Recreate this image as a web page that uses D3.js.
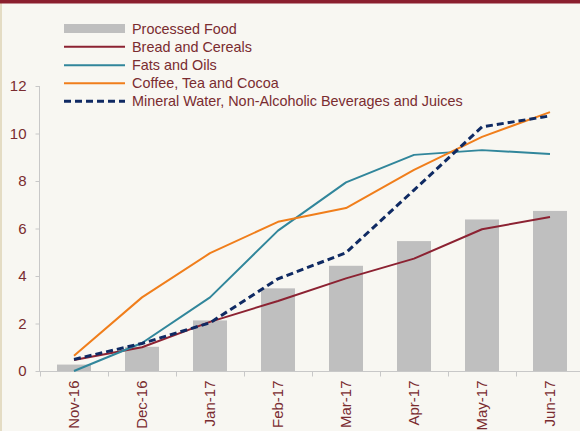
<!DOCTYPE html>
<html>
<head>
<meta charset="utf-8">
<script src="https://cdn.jsdelivr.net/npm/d3@7"></script>
<style>
html,body{margin:0;padding:0;background:#F8F7F2;}
svg{display:block;}
text{font-family:"Liberation Sans",Arial,sans-serif;}
</style>
</head>
<body>
<svg id="chart" width="580" height="431"></svg>
<script>
const categories = ["Nov-16","Dec-16","Jan-17","Feb-17","Mar-17","Apr-17","May-17","Jun-17"];
const processedFood = [0.27,1.02,2.13,3.48,4.43,5.47,6.38,6.74];
const breadCereals = [0.46,1.0,2.07,2.95,3.9,4.73,5.97,6.48];
const fatsOils = [0.0,1.18,3.1,5.91,7.94,9.1,9.3,9.14];
const coffeeTea = [0.64,3.1,4.96,6.28,6.86,8.47,9.86,10.9];
const mineralWater = [0.49,1.16,2.03,3.88,4.98,7.62,10.28,10.74];
const yTicks = [0,2,4,6,8,10,12];

const lineSeries = [
  {name:"Bread and Cereals", values:breadCereals, color:"#8C2232", width:2, dash:null},
  {name:"Fats and Oils", values:fatsOils, color:"#31869B", width:2, dash:null},
  {name:"Coffee, Tea and Cocoa", values:coffeeTea, color:"#F07E1B", width:2, dash:null},
  {name:"Mineral Water, Non-Alcoholic Beverages and Juices", values:mineralWater, color:"#0F2A63", width:3, dash:"7,4"}
];

const svg = d3.select("#chart");
const textColor = "#7A2C30";

// frame decorations
svg.append("rect").attr("x",0).attr("y",0).attr("width",580).attr("height",431).attr("fill","#F8F7F2");
svg.append("rect").attr("x",0).attr("y",0).attr("width",2).attr("height",431).attr("fill","#E4DCC4");
svg.append("rect").attr("x",0).attr("y",0).attr("width",580).attr("height",3.5).attr("fill","#8B1F2E");

const x = d3.scaleBand().domain(categories).range([40, 584]).paddingInner(0).paddingOuter(0);
const y = d3.scaleLinear().domain([0,12]).range([371, 86]);

// bars
svg.append("g").selectAll("rect").data(categories).join("rect")
  .attr("x", d => x(d) + x.bandwidth()*0.25)
  .attr("width", x.bandwidth()*0.5)
  .attr("y", (d,i) => y(processedFood[i]))
  .attr("height", (d,i) => y(0) - y(processedFood[i]))
  .attr("fill", "#BFBFBF");

// y axis
const yAxis = svg.append("g").attr("transform","translate(39.5,0)")
  .call(d3.axisLeft(y).tickValues(yTicks).tickSize(4).tickPadding(9).tickFormat(d3.format("d")));
yAxis.select(".domain").attr("stroke","#C8C8C8").attr("d","M-0,86V371.5");
yAxis.selectAll(".tick line").attr("stroke","#C8C8C8");
yAxis.selectAll(".tick text").attr("fill",textColor).style("font-size","15px").style("font-family","Liberation Sans, Arial, sans-serif");

// x axis
const xAxis = svg.append("g").attr("transform","translate(0,371.5)");
xAxis.append("line").attr("x1",39).attr("x2",584).attr("y1",0).attr("y2",0).attr("stroke","#C8C8C8");
xAxis.selectAll(".xt").data(categories.concat(["__end"])).join("line")
  .attr("x1",(d,i)=>Math.round(40 + i*x.bandwidth())+0.5)
  .attr("x2",(d,i)=>Math.round(40 + i*x.bandwidth())+0.5)
  .attr("y1",0).attr("y2",5).attr("stroke","#C8C8C8");
xAxis.selectAll(".xl").data(categories).join("text")
  .attr("transform", d => `translate(${x(d)+x.bandwidth()/2+5},9) rotate(-90)`)
  .attr("text-anchor","end")
  .attr("fill",textColor)
  .style("font-size","15px")
  .text(d=>d);

// lines
const lineGen = d3.line().x((d,i)=>x(categories[i])+x.bandwidth()/2).y(d=>y(d));
lineSeries.forEach(s => {
  svg.append("path").datum(s.values)
    .attr("d", lineGen)
    .attr("fill","none")
    .attr("stroke", s.color)
    .attr("stroke-width", s.width)
    .attr("stroke-dasharray", s.dash)
    .attr("stroke-linejoin","round");
});

// legend
const legendItems = [{name:"Processed Food", type:"bar", color:"#BFBFBF"}].concat(lineSeries.map(s=>({name:s.name,type:"line",color:s.color,width:s.width,dash:s.dash})));
const lg = svg.append("g");
const rowY = [28.5, 46.7, 65.2, 83.3, 101.2];
legendItems.forEach((it,i) => {
  const yy = rowY[i];
  if (it.type === "bar") {
    lg.append("rect").attr("x",64).attr("y",yy-4.5).attr("width",61).attr("height",9).attr("fill",it.color);
  } else {
    lg.append("line").attr("x1",64).attr("x2",125).attr("y1",yy).attr("y2",yy)
      .attr("stroke",it.color).attr("stroke-width",it.width).attr("stroke-dasharray",it.dash);
  }
  lg.append("text").attr("x",132).attr("y",yy+5).attr("fill",textColor).style("font-size","14.4px").text(it.name);
});
</script>
</body>
</html>
